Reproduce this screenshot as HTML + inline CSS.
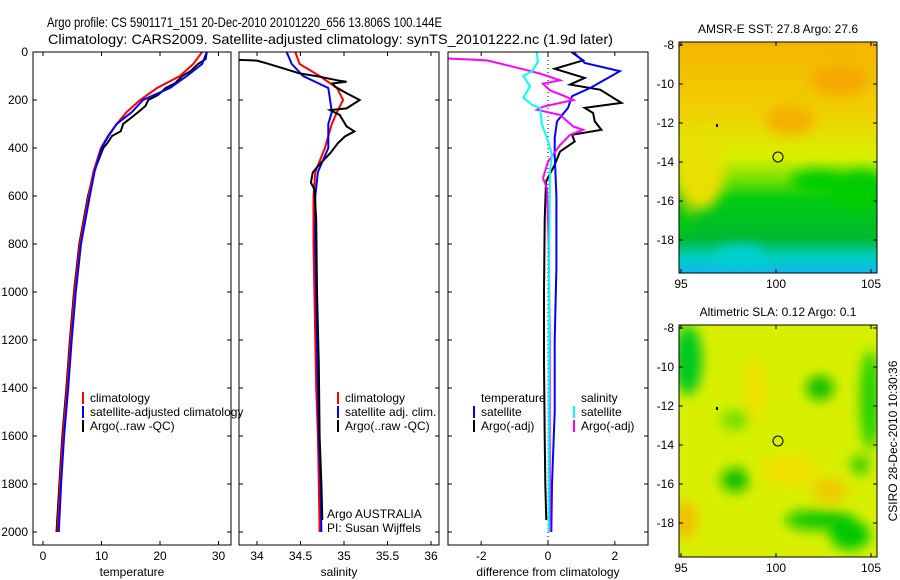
<!DOCTYPE html>
<html><head><meta charset="utf-8"><style>
body{margin:0;background:#fff;}
svg{display:block;font-family:"Liberation Sans",sans-serif;}
</style></head><body>
<svg id="c" width="900" height="580" viewBox="0 0 900 580" xmlns="http://www.w3.org/2000/svg">
<defs>
<linearGradient id="sstg" x1="0" y1="0" x2="0" y2="1">
<stop offset="0" stop-color="#f4b400"/><stop offset="0.3" stop-color="#f0d000"/><stop offset="0.5" stop-color="#d8f000"/><stop offset="0.6" stop-color="#70e000"/><stop offset="0.68" stop-color="#00cc10"/><stop offset="0.85" stop-color="#00b830"/><stop offset="0.93" stop-color="#00cfc0"/><stop offset="1" stop-color="#10b8f0"/>
</linearGradient>
<filter id="bl"><feGaussianBlur stdDeviation="6"/></filter>
<clipPath id="m1"><rect x="679" y="42" width="198" height="231"/></clipPath>
<clipPath id="m2"><rect x="679" y="325" width="198" height="232"/></clipPath>
</defs>
<text x="47" y="27" font-size="14" textLength="395" lengthAdjust="spacingAndGlyphs">Argo profile: CS 5901171_151 20-Dec-2010 20101220_656 13.806S 100.144E</text>
<text x="48" y="44" font-size="14" textLength="565" lengthAdjust="spacingAndGlyphs">Climatology: CARS2009. Satellite-adjusted climatology: synTS_20101222.nc (1.9d later)</text>

<g>
<text x="778" y="33" font-size="12" text-anchor="middle">AMSR-E SST: 27.8 Argo: 27.6</text>
<g clip-path="url(#m1)">
<rect x="679" y="42" width="198" height="231" fill="url(#sstg)"/>
<g filter="url(#bl)">
<ellipse cx="700" cy="170" rx="25" ry="40" fill="#e8e000"/>
<ellipse cx="680" cy="215" rx="12" ry="20" fill="#00cc10"/>
<ellipse cx="790" cy="120" rx="25" ry="15" fill="#f4b000"/>
<ellipse cx="840" cy="80" rx="30" ry="15" fill="#f4a800"/>
<ellipse cx="860" cy="190" rx="30" ry="20" fill="#00cc00"/>
<ellipse cx="820" cy="182" rx="30" ry="12" fill="#00cc00"/>
<ellipse cx="740" cy="255" rx="25" ry="10" fill="#00d0d0"/>
</g>
</g>
<rect x="679" y="42" width="198" height="231" fill="none" stroke="#000"/>
<circle cx="778" cy="157" r="5" fill="none" stroke="#000"/>
<rect x="716" y="124" width="2" height="3" fill="#000"/>
</g>

<g>
<text x="778" y="316" font-size="12" text-anchor="middle">Altimetric SLA: 0.12 Argo: 0.1</text>
<g clip-path="url(#m2)">
<rect x="679" y="325" width="198" height="232" fill="#d8f000"/>
<g filter="url(#bl)">
<ellipse cx="688" cy="360" rx="14" ry="35" fill="#00c820"/>
<ellipse cx="820" cy="388" rx="14" ry="12" fill="#10c000"/>
<ellipse cx="870" cy="400" rx="10" ry="50" fill="#20d000"/>
<ellipse cx="735" cy="480" rx="14" ry="12" fill="#10c000"/>
<ellipse cx="735" cy="420" rx="14" ry="10" fill="#70e000"/>
<ellipse cx="820" cy="520" rx="35" ry="10" fill="#10c800"/>
<ellipse cx="850" cy="535" rx="20" ry="15" fill="#00c800"/>
<ellipse cx="755" cy="390" rx="10" ry="30" fill="#f0e000"/>
<ellipse cx="790" cy="470" rx="30" ry="15" fill="#f0e000"/>
<ellipse cx="830" cy="490" rx="18" ry="12" fill="#f0c800"/>
<ellipse cx="685" cy="520" rx="12" ry="20" fill="#f0c000"/>
<ellipse cx="860" cy="465" rx="10" ry="10" fill="#40d000"/>
</g>
</g>
<rect x="679" y="325" width="198" height="232" fill="none" stroke="#000"/>
<circle cx="778" cy="441" r="5" fill="none" stroke="#000"/>
<rect x="716" y="407" width="2" height="3" fill="#000"/>
</g>
<text transform="translate(897,441) rotate(-90)" font-size="12" text-anchor="middle">CSIRO 28-Dec-2010 10:30:36</text>
</svg>
<script>
// ---- data ----
const tClimDepth=[0,50,100,150,200,250,300,350,400,500,600,800,1000,1200,1400,1600,1800,2000];
const tClimVal=[27.2,25.7,23.4,19.5,16.6,14.3,12.6,11.1,9.9,8.6,7.8,6.3,5.4,4.7,4.1,3.4,2.9,2.5];
const tSatDepth=[0,50,100,150,200,250,300,350,400,500,600,800,1000,1200,1400,1600,1800,2000];
const tSatVal=[28.0,27.2,24.6,21.7,17.1,15.2,12.6,11.2,10.0,8.8,8.0,6.5,5.6,4.9,4.3,3.6,3.1,2.7];
const tArgoDepth=[0,30,50,80,100,130,150,180,200,225,250,275,300,330,350,380,400,500,600,800,1000,1200,1400,1600,1800,2000];
const tArgoVal=[28.0,27.8,26.5,25.2,23.8,22.6,21.0,19.6,18.0,17.5,16.3,15.0,13.7,13.3,11.8,11.0,10.3,8.7,7.7,6.2,5.3,4.6,4.0,3.3,2.8,2.3];

const sClimDepth=[0,50,100,150,200,250,300,400,500,600,800,1000,1200,1400,1600,1800,2000];
const sClimVal=[34.44,34.49,34.72,34.92,34.99,34.92,34.86,34.78,34.67,34.65,34.65,34.66,34.67,34.68,34.7,34.71,34.72];
const sSatDepth=[0,50,100,150,200,250,300,400,500,600,800,1000,1200,1400,1600,1800,2000];
const sSatVal=[34.34,34.40,34.53,34.82,34.84,34.86,34.82,34.82,34.70,34.67,34.67,34.68,34.69,34.70,34.71,34.73,34.74];
const sArgoDepth=[25,33,36,47,68,89,103,120,124,131,145,172,200,214,235,242,262,310,331,352,380,422,475,503,544,572,700,1000,1300,1600,1800,1950];
const sArgoVal=[33.7,33.8,34.0,34.11,34.3,34.49,34.72,34.95,35.03,34.87,34.9,35.03,35.18,35.12,35.03,34.84,34.95,35.03,35.12,35.01,34.93,34.84,34.7,34.64,34.62,34.66,34.68,34.69,34.71,34.72,34.74,34.75];

const dTSatDepth=[0,46,80,108,150,184,233,289,358,428,600,900,1200,1500,1800,2000];
const dTSatVal=[0.76,1.1,2.15,1.8,1.26,0.72,0.6,0.27,0.2,0.2,0.25,0.25,0.2,0.2,0.12,0.1];
const dTArgoDepth=[0,35,70,108,136,157,212,233,254,289,324,345,373,415,470,540,700,1000,1300,1600,1800,1950];
const dTArgoVal=[0.7,1.05,0.2,1.1,0.66,1.56,2.2,1.1,1.35,1.4,1.6,0.72,0.8,0.36,0.2,-0.06,-0.1,-0.12,-0.12,-0.1,-0.08,-0.05];
const dSSatDepth=[0,40,80,100,143,191,220,233,303,358,428,497,800,1200,1600,2000];
const dSSatVal=[-0.34,-0.3,-0.48,-0.74,-0.54,-0.74,-0.48,-0.24,-0.18,-0.03,0.12,0.06,0.04,0.03,0.02,0.02];
const dSArgoDepth=[27,35,55,76,90,118,132,160,181,200,228,241,262,311,324,345,388,457,526,568,800,1200,1600,2000];
const dSArgoVal=[-3,-1.83,-1.23,-0.63,-0.24,0.36,-0.15,0.06,0.45,0.76,-0.15,-0.33,0.36,0.76,1.05,0.66,0.36,0.0,-0.15,-0.03,0.02,0.05,0.05,0.06];

const depthTicks=[0,200,400,600,800,1000,1200,1400,1600,1800,2000];
const tTicks=[0,10,20,30];
const sTicks=[34,34.5,35,35.5,36];
const sTickLabels=["34","34.5","35","35.5","36"];
const dTicks=[-2,0,2];
const latTicks=[-8,-10,-12,-14,-16,-18];
const lonTicks=[95,100,105];

// ---- drawing ----
const svg=document.getElementById('c');
const NS='http://www.w3.org/2000/svg';
function mk(tag,attrs,parent){const e=document.createElementNS(NS,tag);for(const k in attrs)e.setAttribute(k,attrs[k]);(parent||svg).appendChild(e);return e;}
const yD=d=>52+d*0.24;
const pTop=52,pBot=545;
const panels=[
 {name:'temperature',x0:33,x1:231,sx:v=>43+v*5.85,ticks:tTicks,labels:tTicks.map(String),label:'temperature'},
 {name:'salinity',x0:239,x1:439,sx:v=>257+(v-34)*87,ticks:sTicks,labels:sTickLabels,label:'salinity'},
 {name:'difference',x0:448,x1:648,sx:v=>548+v*33.4,ticks:dTicks,labels:dTicks.map(String),label:'difference from climatology'}
];
panels.forEach((p,i)=>{
 const g=mk('g',{});
 
 
 p.g=g;
 const cp=mk('clipPath',{id:'cp'+i},svg);mk('rect',{x:p.x0,y:pTop,width:p.x1-p.x0,height:pBot-pTop},cp);
 p.cl=mk('g',{'clip-path':'url(#cp'+i+')'},g);
 p.ticks.forEach((t,j)=>{const x=p.sx(t);
  mk('line',{x1:x,x2:x,y1:pBot,y2:pBot-4,stroke:'#000'},g);mk('line',{x1:x,x2:x,y1:pTop,y2:pTop+4,stroke:'#000'},g);
  const tx=mk('text',{x:x,y:pBot+15,'font-size':12,'text-anchor':'middle'},g);tx.textContent=p.labels[j];
  
  
 });
 depthTicks.forEach(d=>{const y=yD(d);
  mk('line',{x1:p.x0,x2:p.x0+4,y1:y,y2:y,stroke:'#000'},g);mk('line',{x1:p.x1,x2:p.x1-4,y1:y,y2:y,stroke:'#000'},g);
  if(i==0){const tx=mk('text',{x:28,y:y+4,'font-size':12,'text-anchor':'end'},g);tx.textContent=d;
   
   }
 });
 const xl=mk('text',{x:(p.x0+p.x1)/2,y:576,'font-size':12,'text-anchor':'middle'},g);xl.textContent=p.label;
 
 
});
function line(p,ds,vs,col,name){
 const pts=ds.map((d,k)=>p.sx(vs[k]).toFixed(1)+','+yD(d).toFixed(1)).join(' ');
 const e=mk('polyline',{points:pts,fill:'none',stroke:col,'stroke-width':2},p.cl);
 
 
}
mk('line',{x1:548,x2:548,y1:pTop,y2:pBot,stroke:'#000','stroke-dasharray':'1,3'},panels[2].cl);
line(panels[0],tArgoDepth,tArgoVal,'#000','temp-argo-line');
line(panels[0],tClimDepth,tClimVal,'#f00','temp-climatology-line');
line(panels[0],tSatDepth,tSatVal,'#00f','temp-satellite-line');
line(panels[1],sClimDepth,sClimVal,'#f00','sal-climatology-line');
line(panels[1],sSatDepth,sSatVal,'#00f','sal-satellite-line');
line(panels[1],sArgoDepth,sArgoVal,'#000','sal-argo-line');
line(panels[2],dTArgoDepth,dTArgoVal,'#000','diff-temp-argo-line');
line(panels[2],dTSatDepth,dTSatVal,'#00f','diff-temp-satellite-line');
line(panels[2],dSArgoDepth,dSArgoVal,'#f0f','diff-sal-argo-line');
line(panels[2],dSSatDepth,dSSatVal,'#0ff','diff-sal-satellite-line');
panels.forEach(p=>mk('rect',{x:p.x0,y:pTop,width:p.x1-p.x0,height:pBot-pTop,fill:'none',stroke:'#000'},p.g));
function leg(x,y,col,txt,name){
 if(col)mk('rect',{x:x,y:y-10,width:2,height:12,fill:col});
 const t=mk('text',{x:x+8,y:y,'font-size':12});t.textContent=txt;
 
 
}
leg(82,402,'#f00','climatology','legend-climatology');
leg(82,416,'#00f','satellite-adjusted climatology','legend-satellite');
leg(82,430,'#000','Argo(..raw -QC)','legend-argo');
leg(337,402,'#f00','climatology','legend-sal-climatology');
leg(337,416,'#00f','satellite adj. clim.','legend-sal-satellite');
leg(337,430,'#000','Argo(..raw -QC)','legend-sal-argo');
leg(473,402,null,'temperature','legend-temp-header');
leg(473,416,'#00f','satellite','legend-diff-temp-sat');
leg(473,430,'#000','Argo(-adj)','legend-diff-temp-argo');
leg(573,402,null,'salinity','legend-sal-header');
leg(573,416,'#0ff','satellite','legend-diff-sal-sat');
leg(573,430,'#f0f','Argo(-adj)','legend-diff-sal-argo');
leg(319,518,null,'Argo AUSTRALIA','argo-australia-label');
leg(319,532,null,'PI: Susan Wijffels','pi-label');
// map axes
[[42,273,-8,45,-10,84],[325,557,-8,328,-10,367]].forEach(m=>{
 const ly=v=>m[3]+(v-m[2])*(m[5]-m[3])/(m[4]-m[2]);
 const lx=v=>681+(v-95)*19;
 latTicks.forEach(t=>{const y=ly(t);
  mk('line',{x1:679,x2:683,y1:y,y2:y,stroke:'#000'});mk('line',{x1:877,x2:873,y1:y,y2:y,stroke:'#000'});
  const tx=mk('text',{x:674,y:y+4,'font-size':12,'text-anchor':'end'});tx.textContent=String(t);
  
  
 });
 lonTicks.forEach(t=>{const x=lx(t);
  mk('line',{x1:x,x2:x,y1:m[0],y2:m[0]+4,stroke:'#000'});mk('line',{x1:x,x2:x,y1:m[1],y2:m[1]-4,stroke:'#000'});
  const tx=mk('text',{x:x,y:m[1]+15,'font-size':12,'text-anchor':'middle'});tx.textContent=t;
  
  
 });
});
</script>
</body></html>
